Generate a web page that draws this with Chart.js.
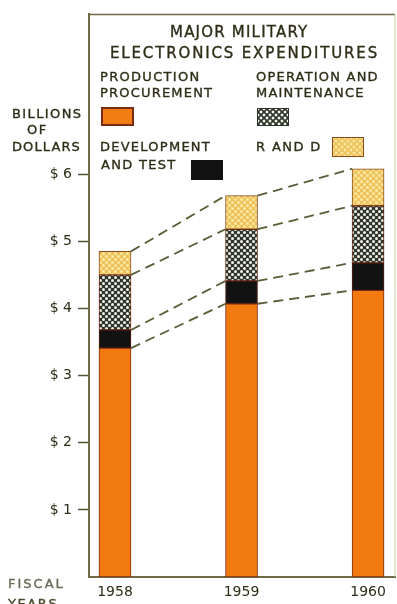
<!DOCTYPE html>
<html>
<head>
<meta charset="utf-8">
<script src="https://cdn.jsdelivr.net/npm/chart.js@4"></script>
<style>
  html, body { margin: 0; padding: 0; background: #ffffff; }
  #wrap { position: relative; width: 397px; height: 604px; overflow: hidden; background: #fff; }
  canvas { position: absolute; left: 0; top: 0; }
  .t { position: absolute; font-family: "DejaVu Sans", sans-serif; color: #2e2e18; white-space: nowrap; line-height: 1; -webkit-text-stroke: 0.35px currentColor; }
  .sw { position: absolute; box-sizing: border-box; }
</style>
</head>
<body>
<div id="wrap">
  <canvas id="c" width="397" height="604"></canvas>
  <div class="t" style="left:170px; top:24.5px; font-size:15px; letter-spacing:1.2px;">MAJOR MILITARY</div>
  <div class="t" style="left:110px; top:46px; font-size:15px; letter-spacing:1.85px;">ELECTRONICS EXPENDITURES</div>

  <div class="t" style="left:100px; top:70px; font-size:13px; letter-spacing:1.3px;">PRODUCTION</div>
  <div class="t" style="left:100px; top:86px; font-size:13px; letter-spacing:1.2px;">PROCUREMENT</div>
  <div class="sw" style="left:101px; top:107px; width:33px; height:19px; background:#f27d12; border:2px solid #7a2a12;"></div>

  <div class="t" style="left:256px; top:70px; font-size:13px; letter-spacing:1.2px;">OPERATION AND</div>
  <div class="t" style="left:256px; top:86px; font-size:13px; letter-spacing:1.2px;">MAINTENANCE</div>
  <div class="sw" style="left:257px; top:108px; width:32px; height:18px; border:1.5px solid #2f352a;
     background: radial-gradient(circle, #f4f4ee 1.3px, transparent 1.7px) 0 0/6px 6px, radial-gradient(circle, #f4f4ee 1.3px, transparent 1.7px) 3px 3px/6px 6px, #2f352a;"></div>

  <div class="t" style="left:100px; top:139.5px; font-size:13px; letter-spacing:1.25px;">DEVELOPMENT</div>
  <div class="t" style="left:101px; top:157.5px; font-size:13px; letter-spacing:1.3px;">AND TEST</div>
  <div class="sw" style="left:191px; top:160px; width:32px; height:20px; background:#111111;"></div>

  <div class="t" style="left:256px; top:139.5px; font-size:13px; letter-spacing:1.4px;">R AND D</div>
  <div class="sw" style="left:332px; top:137px; width:32px; height:20px; border:1.5px solid #8a4a1a;
     background: radial-gradient(circle, #f9e9a0 1.3px, transparent 1.7px) 0 0/6px 6px, radial-gradient(circle, #f9e9a0 1.3px, transparent 1.7px) 3px 3px/6px 6px, #efc25e;"></div>

  <div class="t" style="left:12px; top:106.5px; font-size:13px; letter-spacing:1.4px;">BILLIONS</div>
  <div class="t" style="left:27px; top:122.5px; font-size:13px; letter-spacing:1.4px;">OF</div>
  <div class="t" style="left:12px; top:139.5px; font-size:13px; letter-spacing:1.1px;">DOLLARS</div>

  <div class="t" style="left:8px; top:576.5px; font-size:13px; letter-spacing:2px; color:#6a6a58;">FISCAL</div>
  <div class="t" style="left:8px; top:597px; font-size:13px; letter-spacing:1.6px; color:#4a4a30;">YEARS</div>
</div>
<script>
// ---- data ----
const years = ['1958', '1959', '1960'];
const production = [3.41, 4.07, 4.27];
const devTest = [0.27, 0.34, 0.41];
const operation = [0.82, 0.77, 0.85];
const rAndD = [0.35, 0.50, 0.55];
const yTicks = [1, 2, 3, 4, 5, 6];

function dotPattern(bg, dot, size, r) {
  const c = document.createElement('canvas');
  c.width = size; c.height = size;
  const g = c.getContext('2d');
  g.fillStyle = bg; g.fillRect(0, 0, size, size);
  g.fillStyle = dot;
  [[size / 4, size / 4], [3 * size / 4, 3 * size / 4]].forEach(([x, y]) => {
    g.beginPath(); g.arc(x, y, r, 0, Math.PI * 2); g.fill();
  });
  return g.createPattern(c, 'repeat');
}

const ctx = document.getElementById('c').getContext('2d');
const omPattern = dotPattern('#2f352a', '#f2f2ea', 6, 1.5);
const rdPattern = dotPattern('#efc25e', '#f9e9a0', 6, 1.5);

const toXY = arr => arr.map((v, i) => ({ x: i, y: v }));

const connectorPlugin = {
  id: 'connectors',
  afterDatasetsDraw(chart) {
    const c = chart.ctx;
    c.save();
    c.strokeStyle = '#5c5c38';
    c.lineWidth = 1.8;
    c.setLineDash([10, 6]);
    for (let k = 0; k < chart.data.datasets.length; k++) {
      const els = chart.getDatasetMeta(k).data;
      for (let i = 0; i < els.length - 1; i++) {
        const a = els[i], b = els[i + 1];
        c.beginPath();
        c.moveTo(a.x + a.width / 2, a.y);
        c.lineTo(b.x - b.width / 2, b.y);
        c.stroke();
      }
    }
    c.restore();
  },
  afterDraw(chart) {
    const a = chart.chartArea, c = chart.ctx;
    c.save();
    c.strokeStyle = '#6d6a44';
    c.lineWidth = 1.5;
    c.beginPath();
    c.moveTo(a.left, a.top);
    c.lineTo(a.right, a.top);
    c.stroke();
    c.strokeStyle = '#cfc8a8';
    c.lineWidth = 1;
    c.beginPath();
    c.moveTo(a.right, a.top);
    c.lineTo(a.right, a.bottom);
    c.stroke();
    c.restore();
  }
};

new Chart(ctx, {
  type: 'bar',
  data: {
    datasets: [
      { label: 'PRODUCTION PROCUREMENT', data: toXY(production), backgroundColor: '#f27a10', borderColor: '#7a2a12', borderWidth: 1, borderSkipped: false },
      { label: 'DEVELOPMENT AND TEST', data: toXY(devTest), backgroundColor: '#121212', borderColor: '#5a2010', borderWidth: 1, borderSkipped: false },
      { label: 'OPERATION AND MAINTENANCE', data: toXY(operation), backgroundColor: omPattern, borderColor: '#6a2a12', borderWidth: 1, borderSkipped: false },
      { label: 'R AND D', data: toXY(rAndD), backgroundColor: rdPattern, borderColor: '#8a4a1a', borderWidth: 1, borderSkipped: false }
    ]
  },
  options: {
    responsive: false,
    animation: false,
    layout: { padding: { top: 13, right: 2, left: 0, bottom: 0 } },
    datasets: { bar: { barThickness: 32 } },
    plugins: { legend: { display: false }, tooltip: { enabled: false }, title: { display: false } },
    scales: {
      x: {
        type: 'linear',
        offset: false,
        stacked: true,
        min: -0.2055,
        max: 2.213,
        afterBuildTicks: s => { s.ticks = years.map((_, i) => ({ value: i })); },
        afterFit: s => { s.height = 27; },
        ticks: {
          callback: v => years[v],
          color: '#2e2e18',
          font: { family: 'DejaVu Sans', size: 14 },
          padding: 7,
          maxRotation: 0
        },
        grid: { drawOnChartArea: false, drawTicks: false, offset: false },
        border: { display: true, color: '#6d6a44', width: 2 }
      },
      y: {
        stacked: true,
        min: 0,
        max: 8.38,
        afterBuildTicks: s => { s.ticks = yTicks.map(v => ({ value: v })); },
        afterFit: s => { s.width = 89; },
        ticks: {
          callback: v => '$ ' + v,
          color: '#2e2e18',
          font: { family: 'DejaVu Sans', size: 14 },
          padding: 6
        },
        grid: { drawOnChartArea: false, drawTicks: true, tickLength: 11, tickColor: '#55553a', tickWidth: 1.5 },
        border: { display: true, color: '#6d6a44', width: 2 }
      }
    }
  },
  plugins: [connectorPlugin]
});
</script>
</body>
</html>
